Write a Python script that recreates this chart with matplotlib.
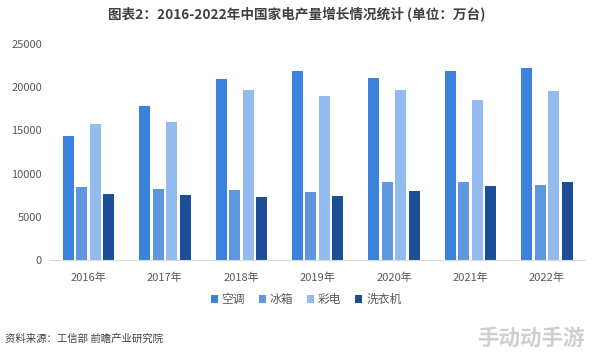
import matplotlib
matplotlib.use("Agg")
import matplotlib.pyplot as plt
import numpy as np

plt.rcParams['font.family'] = ['Noto Sans CJK SC', 'DejaVu Sans']

years = ["2016年", "2017年", "2018年", "2019年", "2020年", "2021年", "2022年"]
series_names = ["空调", "冰箱", "彩电", "洗衣机"]
aircon = [14342, 17862, 20956, 21866, 21064, 21836, 22247]
fridge = [8481, 8231, 8100, 7904, 9015, 8992, 8664]
tv = [15770, 15933, 19695, 18999, 19626, 18497, 19578]
washer = [7621, 7501, 7262, 7433, 8042, 8619, 8987]
yticks = [0, 5000, 10000, 15000, 20000, 25000]

colors = ["#3b82dc", "#5e97e0", "#93bbef", "#1c4e98"]
values = [aircon, fridge, tv, washer]

fig = plt.figure(figsize=(5.94, 3.54), dpi=100)
ax = fig.add_axes([0.0847, 0.2655, 0.9003, 0.6102])

x = np.arange(len(years))
slot = 0.177
width = 0.144
for i, (vals, c, name) in enumerate(zip(values, colors, series_names)):
    ax.bar(x + (i - 1.5) * slot, vals, width=width, color=c, label=name, zorder=2)

ax.set_xlim(-0.5, len(years) - 0.5)
ax.set_ylim(0, 25000)
ax.set_yticks(yticks)
ax.set_yticklabels([str(t) for t in yticks], fontsize=8, color="#595959")
ax.set_xticks(x)
ax.set_xticklabels(years, fontsize=8, color="#595959")
ax.tick_params(axis='y', length=0, pad=6)
ax.tick_params(axis='x', length=0, pad=9)
for s in ["top", "right", "left"]:
    ax.spines[s].set_visible(False)
ax.spines["bottom"].set_color("#d9d9d9")
ax.spines["bottom"].set_linewidth(0.8)

fig.legend(loc="center", bbox_to_anchor=(0.515, 0.153), ncol=4, frameon=False,
           fontsize=8.5, handlelength=0.6, handleheight=0.6, handletextpad=0.3,
           columnspacing=1.2, labelcolor="#595959")

fig.text(0.5, 0.958, "图表2：2016-2022年中国家电产量增长情况统计 (单位：万台)",
         ha="center", va="center", fontsize=9.8, fontweight="bold", color="#404040")
fig.text(0.008, 0.042, "资料来源：工信部 前瞻产业研究院", ha="left", va="center",
         fontsize=7.5, color="#404040")
fig.text(0.985, 0.045, "手动动手游", ha="right", va="center", fontsize=15.5,
         fontweight="bold", color="#cfcfcf")

fig.savefig("out.png", dpi=100)
